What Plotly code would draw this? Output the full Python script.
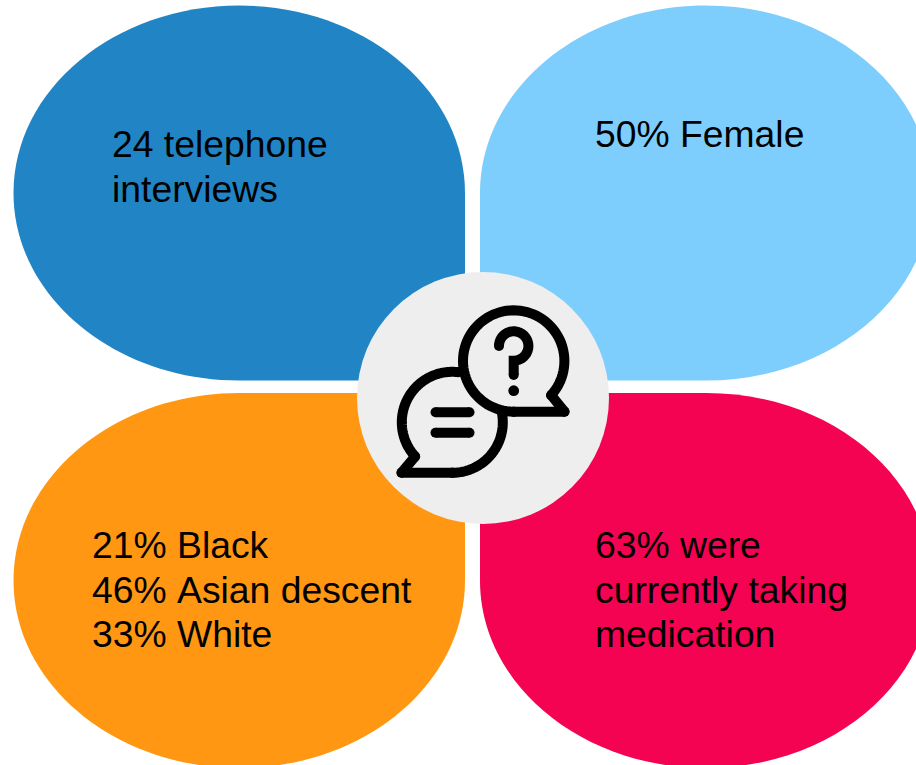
import math
import plotly.graph_objects as go

# Panel fill colours and the lines of text placed on each panel
panel_colors = ["#2185C5", "#7ECEFD", "#FF9712", "#F30352"]
hub_color = "#EEEEEE"
panel_lines = [
    ["24 telephone", "interviews"],
    ["50% Female"],
    ["21% Black", "46%\u00a0Asian descent", "33% White"],
    ["63% were", "currently taking", "medication"],
]

# Panel bounds (left, top, right, bottom), the square corner, and text origin
panel_boxes = [
    (13.5, 5.5, 465, 380.5),
    (480, 5.5, 931.5, 380.5),
    (13.5, 393, 465, 768),
    (480, 393, 931.5, 768),
]
square_corners = ["br", "bl", "tr", "tl"]
text_origins = [(112, 144.3), (595, 134), (91.7, 544.9), (594.7, 544.9)]
LINE_STEP = 44.6
FONT_SIZE = 37.3
KAPPA = 0.5523


def teardrop(box, corner):
    """Ellipse-like blob with one corner pulled out square, as an SVG path."""
    l, t, r, b = box
    cx, cy = (l + r) / 2, (t + b) / 2
    kx, ky = (r - l) / 2 * KAPPA, (b - t) / 2 * KAPPA
    p = f"M {l},{cy} "
    p += f"L {l},{t} L {cx},{t} " if corner == "tl" else f"C {l},{cy-ky} {cx-kx},{t} {cx},{t} "
    p += f"L {r},{t} L {r},{cy} " if corner == "tr" else f"C {cx+kx},{t} {r},{cy-ky} {r},{cy} "
    p += f"L {r},{b} L {cx},{b} " if corner == "br" else f"C {r},{cy+ky} {cx+kx},{b} {cx},{b} "
    p += f"L {l},{b} Z" if corner == "bl" else f"C {cx-kx},{b} {l},{cy+ky} {l},{cy} Z"
    return p


def arc(cx, cy, r, start, end, steps=80):
    """Points along a circle; angles in degrees, y pointing down."""
    return [
        (cx + r * math.cos(math.radians(start + (end - start) * i / steps)),
         cy + r * math.sin(math.radians(start + (end - start) * i / steps)))
        for i in range(steps + 1)
    ]


shapes = []
for box, corner, color in zip(panel_boxes, square_corners, panel_colors):
    shapes.append(dict(type="path", path=teardrop(box, corner),
                       fillcolor=color, line=dict(width=0), layer="below"))

# Grey hub behind the speech-bubble icon
shapes.append(dict(type="circle", x0=357, y0=272, x1=609, y1=524,
                   fillcolor=hub_color, line=dict(width=0)))


def dot(x, y, r):
    shapes.append(dict(type="circle", x0=x - r, y0=y - r, x1=x + r, y1=y + r,
                       fillcolor="black", line=dict(width=0)))


def stroke(points, width=10):
    """Open black polyline with round ends."""
    d = "M " + " L ".join(f"{x:.2f},{y:.2f}" for x, y in points)
    shapes.append(dict(type="path", path=d, line=dict(color="black", width=width)))
    dot(*points[0], width / 2)
    dot(*points[-1], width / 2)


# Question bubble
q_cx, q_cy, q_r = 513.7, 361.0, 50.7
q_tip = (564.5, 411.7)
stroke(arc(q_cx, q_cy, q_r, 90, 402.4))
stroke([(q_cx + q_r * math.cos(math.radians(42.4)), q_cy + q_r * math.sin(math.radians(42.4))), q_tip])
stroke([q_tip, (q_cx, q_cy + q_r)])

# Answer bubble, tucked behind the question bubble
a_cx, a_cy, a_r = 452.3, 422.3, 50.5
a_tip = (401.5, 472.8)
stroke(arc(a_cx, a_cy, a_r, -83, -222.6))
stroke([(a_cx + a_r * math.cos(math.radians(137.4)), a_cy + a_r * math.sin(math.radians(137.4))), a_tip])
stroke([a_tip, (a_cx, a_cy + a_r)])
stroke(arc(a_cx, a_cy, a_r, 90, -13))

# Equals sign
stroke([(435.5, 412.3), (469.5, 412.3)])
stroke([(435.5, 432.7), (469.5, 432.7)])

# Question mark
stroke(arc(513.7, 346.0, 14.7, 180, 450) + [(513.7, 375.0)])
dot(513.7, 390.7, 5.4)

annotations = []
for lines, (x, y) in zip(panel_lines, text_origins):
    for i, line in enumerate(lines):
        annotations.append(dict(
            x=x, y=y + i * LINE_STEP, text=line, xref="x", yref="y",
            xanchor="left", yanchor="middle", align="left", showarrow=False,
            xshift=0, borderpad=0, borderwidth=0,
            font=dict(family="Liberation Sans", size=FONT_SIZE, color="black"),
        ))

fig = go.Figure()
fig.update_layout(
    width=916, height=765, autosize=False,
    margin=dict(l=0, r=0, t=0, b=0, pad=0),
    paper_bgcolor="white", plot_bgcolor="white",
    xaxis=dict(range=[0, 916], visible=False, fixedrange=True),
    yaxis=dict(range=[765, 0], visible=False, fixedrange=True),
    shapes=shapes, annotations=annotations, showlegend=False,
)
fig.write_html("out.html", config=dict(displayModeBar=False))
